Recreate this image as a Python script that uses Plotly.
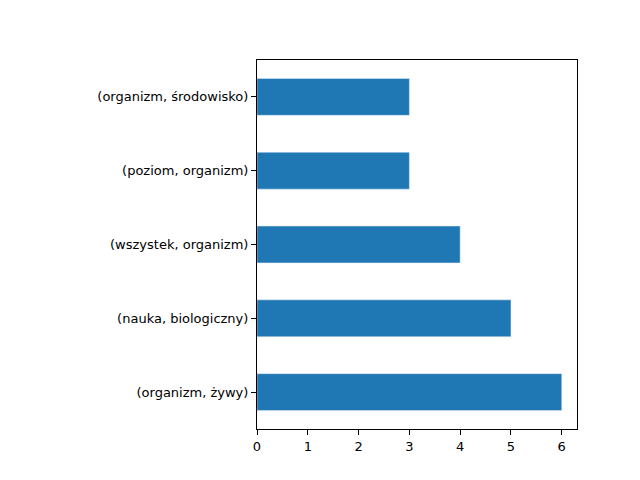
import plotly.graph_objects as go

labels = ["(organizm, żywy)", "(nauka, biologiczny)", "(wszystek, organizm)",
          "(poziom, organizm)", "(organizm, środowisko)"]
counts = [6, 5, 4, 3, 3]

fig = go.Figure(go.Bar(
    x=counts, y=labels, orientation="h",
    marker_color="#1f77b4", width=0.5,
))

# page body adds ~7px offset, so the figure is made slightly smaller
fig.update_layout(
    width=632, height=472,
    margin=dict(l=249, r=63, t=52, b=51),
    plot_bgcolor="white", paper_bgcolor="white",
    font=dict(family="DejaVu Sans", size=13, color="black"),
    showlegend=False,
)
fig.update_xaxes(range=[0, 6.3], dtick=1, showgrid=False, zeroline=False,
                 showline=True, linecolor="black", linewidth=1, mirror=True,
                 ticks="outside", ticklen=5, tickcolor="black")
fig.update_yaxes(range=[-0.5, 4.5], showgrid=False, zeroline=False,
                 showline=True, linecolor="black", linewidth=1, mirror=True,
                 ticks="outside", ticklen=5, tickcolor="black",
                 categoryorder="array", categoryarray=labels)

fig.write_html("out.html")
